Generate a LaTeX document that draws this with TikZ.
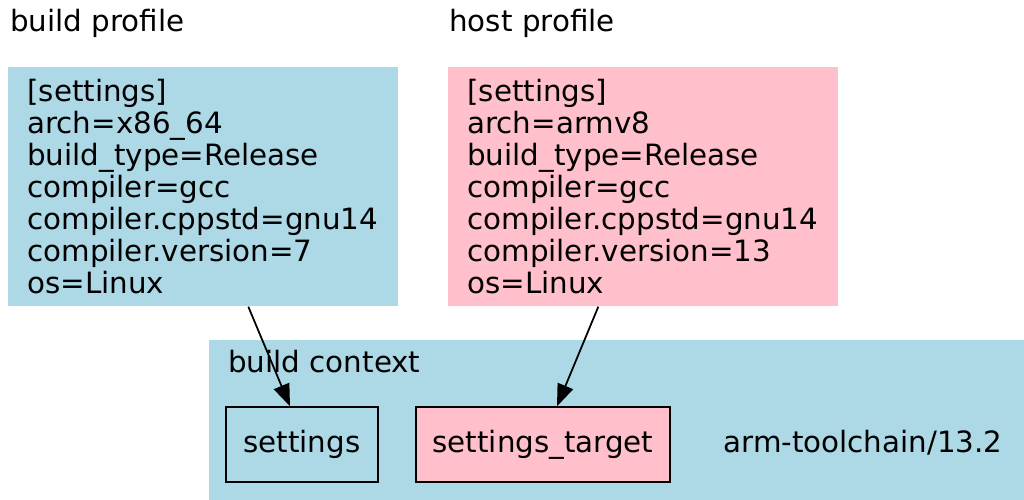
\documentclass[tikz,border=0pt]{standalone}
\usepackage{fontspec}
\setmainfont{DejaVu Sans}
\usetikzlibrary{arrows.meta,calc}
\definecolor{lblue}{HTML}{ADD8E6}
\definecolor{lpink}{HTML}{FFC0CB}
\tikzset{
  profbox/.style={anchor=north west, inner xsep=0.38cm, text width=7.04cm, align=left, minimum width=7.8cm, minimum height=4.78cm},
  pkgbox/.style={draw=black, line width=0.85pt, minimum height=1.5cm},
  dep/.style={-{Triangle[length=0.44cm,width=0.33cm]}, line width=1pt}
}
\begin{document}
\begin{tikzpicture}[x=0.02cm, y=-0.02cm, font=\fontsize{16.7}{18.2}\selectfont]
\useasboundingbox (0,0) rectangle (1024,500);
% profiles
\node[anchor=base west, inner sep=0] (buildlbl) at (10,32) {build profile};
\node[anchor=base west, inner sep=0] (hostlbl) at (449,32) {host profile};
\node[profbox, fill=lblue] (build) at (8,67) {[settings]\\arch=x86\_64\\build\_type=Release\\compiler=gcc\\compiler.cppstd=gnu14\\compiler.version=7\\os=Linux};
\node[profbox, fill=lpink] (host) at (448,67) {[settings]\\arch=armv8\\build\_type=Release\\compiler=gcc\\compiler.cppstd=gnu14\\compiler.version=13\\os=Linux};
% build context
\fill[lblue] (209,340) rectangle (1024,500);
\node[anchor=base west, inner sep=0] (ctxlbl) at (228,372) {build context};
\node[pkgbox, fill=lblue, minimum width=3.04cm] (settings) at (302,444.5) {settings};
\node[pkgbox, fill=lpink, minimum width=5.08cm] (target) at (543,444.5) {settings\_target};
\node (toolchain) at (863,443) {arm-toolchain/13.2};
% edges
\draw[dep] ($(build.south)+(45,0)$) -- ($(settings.north)+(-12,0)$);
\draw[dep] ($(host.south)+(-45,0)$) -- ($(target.north)+(14,0)$);
\end{tikzpicture}
\end{document}
